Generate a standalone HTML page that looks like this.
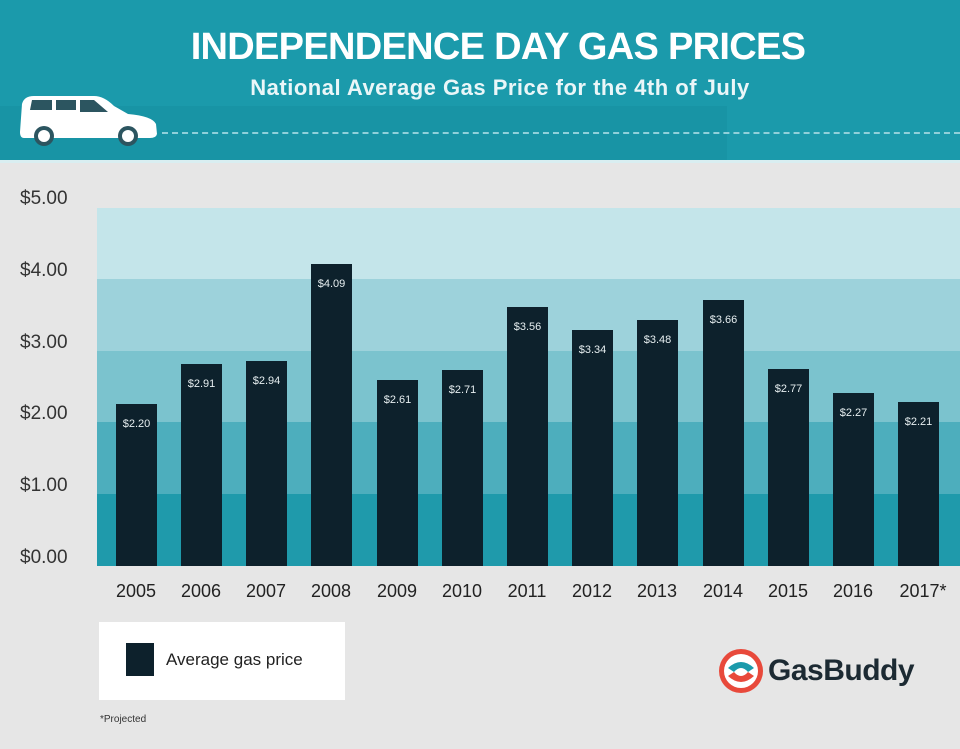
<!DOCTYPE html>
<html><head><meta charset="utf-8"><style>
body{margin:0;width:960px;height:749px;background:#e6e6e6;font-family:"Liberation Sans",sans-serif;position:relative;overflow:hidden}
.a{position:absolute}
.bar{position:absolute;background:#0d212c;width:41px;bottom:183px}
.bar span{position:absolute;top:14px;left:0;width:41px;text-align:center;color:#e6eef0;font-size:11px}
.yl{position:absolute;left:20px;font-size:19px;color:#333;letter-spacing:0px}
.xl{position:absolute;top:581px;font-size:18px;color:#222;width:60px;text-align:center}
</style></head><body>
<div class="a" style="left:0;top:0;width:960px;height:160px;background:#1b9aab"></div>
<div class="a" style="left:0;top:106px;width:727px;height:54px;background:#1894a5"></div>
<div class="a" style="left:0;top:160px;width:960px;height:3px;background:#d9eef1"></div>
<div class="a" style="left:18px;top:26px;width:960px;text-align:center;color:#fff;font-weight:bold;font-size:38px;letter-spacing:-0.7px">INDEPENDENCE DAY GAS PRICES</div>
<div class="a" style="left:0;top:75px;width:1000px;text-align:center;color:#eaf6f8;font-weight:bold;font-size:22px;letter-spacing:0.5px">National Average Gas Price for the 4th of July</div>
<div class="a" style="left:162px;top:132px;width:798px;border-top:2px dashed #8fd0da"></div>
<svg class="a" style="left:16px;top:92px" width="145" height="56" viewBox="0 0 145 56">
<path d="M6 12 Q8 4 18 4 L78 4 Q88 4 98 14 L112 22 Q136 24 140 32 L141 42 Q140 46 134 46 L8 46 Q4 46 4 40 Z" fill="#fff"/>
<path d="M16 8 L36 8 L36 18 L14 18 Z M40 8 L60 8 L60 18 L40 18 Z M64 8 L78 8 L92 20 L64 20 Z" fill="#2c5560"/>
<circle cx="28" cy="44" r="10" fill="#2c5560"/><circle cx="28" cy="44" r="6" fill="#fff"/>
<circle cx="112" cy="44" r="10" fill="#2c5560"/><circle cx="112" cy="44" r="6" fill="#fff"/>
</svg>
<div class="a" style="left:97px;top:208px;width:863px;height:71px;background:#c4e5ea"></div>
<div class="a" style="left:97px;top:279px;width:863px;height:72px;background:#9dd2db"></div>
<div class="a" style="left:97px;top:351px;width:863px;height:71px;background:#7bc3ce"></div>
<div class="a" style="left:97px;top:422px;width:863px;height:72px;background:#4daebd"></div>
<div class="a" style="left:97px;top:494px;width:863px;height:72px;background:#1f9aab"></div>
<div class="yl" style="top:188px">$5.00</div>
<div class="yl" style="top:260px">$4.00</div>
<div class="yl" style="top:332px">$3.00</div>
<div class="yl" style="top:403px">$2.00</div>
<div class="yl" style="top:475px">$1.00</div>
<div class="yl" style="top:547px">$0.00</div>
<div class="bar" style="left:116px;top:404px"><span>$2.20</span></div>
<div class="bar" style="left:181px;top:364px"><span>$2.91</span></div>
<div class="bar" style="left:246px;top:361px"><span>$2.94</span></div>
<div class="bar" style="left:311px;top:264px"><span>$4.09</span></div>
<div class="bar" style="left:377px;top:380px"><span>$2.61</span></div>
<div class="bar" style="left:442px;top:370px"><span>$2.71</span></div>
<div class="bar" style="left:507px;top:307px"><span>$3.56</span></div>
<div class="bar" style="left:572px;top:330px"><span>$3.34</span></div>
<div class="bar" style="left:637px;top:320px"><span>$3.48</span></div>
<div class="bar" style="left:703px;top:300px"><span>$3.66</span></div>
<div class="bar" style="left:768px;top:369px"><span>$2.77</span></div>
<div class="bar" style="left:833px;top:393px"><span>$2.27</span></div>
<div class="bar" style="left:898px;top:402px"><span>$2.21</span></div>
<div class="xl" style="left:106px">2005</div><div class="xl" style="left:171px">2006</div>
<div class="xl" style="left:236px">2007</div><div class="xl" style="left:301px">2008</div>
<div class="xl" style="left:367px">2009</div><div class="xl" style="left:432px">2010</div>
<div class="xl" style="left:497px">2011</div><div class="xl" style="left:562px">2012</div>
<div class="xl" style="left:627px">2013</div><div class="xl" style="left:693px">2014</div>
<div class="xl" style="left:758px">2015</div><div class="xl" style="left:823px">2016</div>
<div class="xl" style="left:893px">2017*</div>
<div class="a" style="left:99px;top:622px;width:246px;height:78px;background:#fff"></div>
<div class="a" style="left:126px;top:643px;width:28px;height:33px;background:#0d212c"></div>
<div class="a" style="left:166px;top:650px;font-size:17px;color:#222">Average gas price</div>
<div class="a" style="left:100px;top:714px;font-size:10px;color:#333">*Projected</div>
<svg class="a" style="left:718px;top:648px" width="46" height="46" viewBox="0 0 46 46">
<circle cx="23" cy="23" r="22" fill="#e8493b"/><circle cx="23" cy="23" r="17" fill="#fff"/>
<path d="M10 20 Q23 8 36 20 L30 24 Q23 16 16 24 Z" fill="#1b9aab"/>
<path d="M10 28 Q23 40 36 28 L30 24 Q23 32 16 24 Z" fill="#e8493b"/>
</svg>
<div class="a" style="left:768px;top:654px;font-size:30px;color:#1c2a33;font-weight:bold;letter-spacing:-0.5px">GasBuddy</div>
</body></html>
